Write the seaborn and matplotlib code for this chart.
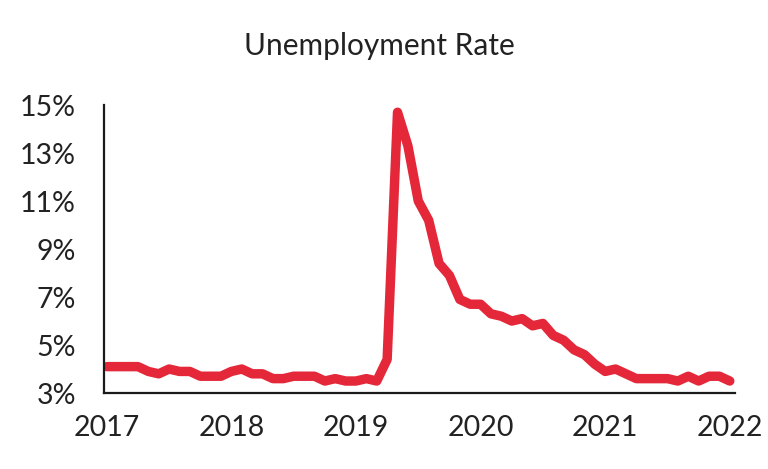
import numpy as np
import pandas as pd
import matplotlib
matplotlib.use("Agg")
import matplotlib.pyplot as plt
import seaborn as sns
from matplotlib.ticker import FuncFormatter

# monthly unemployment rate (%)
rate = [4.1, 4.1, 4.1, 4.1, 3.9, 3.8, 4.0, 3.9, 3.9, 3.7, 3.7, 3.7,
        3.9, 4.0, 3.8, 3.8, 3.6, 3.6, 3.7, 3.7, 3.7, 3.5, 3.6, 3.5,
        3.5, 3.6, 3.5, 4.4, 14.7, 13.3, 11.0, 10.2, 8.4, 7.9, 6.9, 6.7,
        6.7, 6.3, 6.2, 6.0, 6.1, 5.8, 5.9, 5.4, 5.2, 4.8, 4.6, 4.2,
        3.9, 4.0, 3.8, 3.6, 3.6, 3.6, 3.6, 3.5, 3.7, 3.5, 3.7, 3.7,
        3.5]
year_labels = ["2017", "2018", "2019", "2020", "2021", "2022"]
y_ticks = [3, 5, 7, 9, 11, 13, 15]

df = pd.DataFrame({"month": np.arange(len(rate)), "rate": rate})

sns.set_style("white")
plt.rcParams['font.family'] = ['Lato', 'DejaVu Sans']

fig = plt.figure(figsize=(7.68, 4.69), dpi=100)
ax = fig.add_axes([0.135, 0.162, 0.822, 0.614])

sns.lineplot(data=df, x="month", y="rate", ax=ax, color="#E4283A",
             linewidth=6.8, solid_capstyle="round", solid_joinstyle="round")

ax.set_xlim(-0.3, 60.5)
ax.set_ylim(3, 15)
ax.set_xticks(np.arange(0, 61, 12))
ax.set_xticklabels(year_labels)
ax.set_yticks(y_ticks)
ax.yaxis.set_major_formatter(FuncFormatter(lambda v, _: f"{v:.0f}%"))

ax.tick_params(axis="both", length=0, labelsize=20.5, colors="#222222")
ax.tick_params(axis="x", pad=16)
ax.tick_params(axis="y", pad=20)
ax.set_xlabel("")
ax.set_ylabel("")

for side in ["top", "right"]:
    ax.spines[side].set_visible(False)
for side in ["left", "bottom"]:
    ax.spines[side].set_color("#1a1a1a")
    ax.spines[side].set_linewidth(1.6)

fig.text(0.494, 0.902, "Unemployment Rate", ha="center", va="center",
         fontsize=21.5, color="#222222")

fig.savefig("out.png", dpi=100)
